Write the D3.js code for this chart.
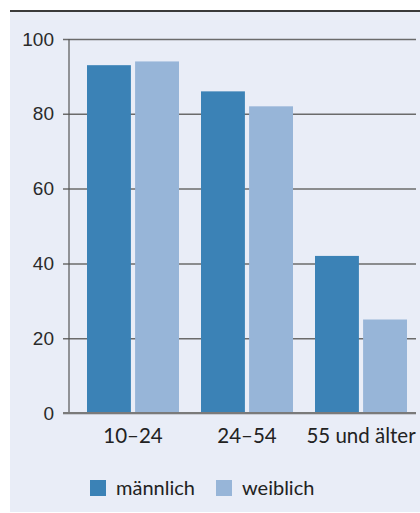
<!DOCTYPE html>
<html>
<head>
<meta charset="utf-8">
<script src="https://cdn.jsdelivr.net/npm/d3@7"></script>
<style>
  body { margin: 0; background: #fff; }
  svg { display: block; }
</style>
</head>
<body>
<div class="graph"><svg></svg></div>
<script>
// Data
const groups = ['10–24', '24–54', '55 und älter']
const seriesNames = ['männlich', 'weiblich']
const maleValues = [93, 86, 42]
const femaleValues = [94, 82, 25]
const yTicks = [0, 20, 40, 60, 80, 100]

const colors = ['#3b82b6', '#97b5d8']
const width = 420
const height = 513

const svg = d3.select('.graph').select('svg')
  .attr('width', width)
  .attr('height', height)

// panel background and top rule
svg.append('rect')
  .attr('x', 10).attr('y', 11)
  .attr('width', width - 10).attr('height', 501)
  .attr('fill', '#e9edf7')

svg.append('line')
  .attr('x1', 10).attr('x2', width)
  .attr('y1', 11).attr('y2', 11)
  .attr('stroke', '#3a3a3a')
  .attr('stroke-width', 2)

const y = d3.scaleLinear().domain([0, 100]).range([413, 39])
const x0 = d3.scaleBand().domain(groups)
  .range([76, 418]).paddingInner(0.193).paddingOuter(0.0965)
const x1 = d3.scaleBand().domain(seriesNames)
  .range([0, x0.bandwidth()]).paddingInner(0.087)

// grid lines + y axis
// (tick size is negative for the grid, so padding is measured from the axis)
const yAxis = d3.axisLeft(y)
  .tickValues(yTicks)
  .tickSize(-(416 - 69))
  .tickSizeOuter(0)
  .tickPadding(15)

const gy = svg.append('g')
  .attr('class', 'y axis')
  .attr('transform', 'translate(69,0)')
  .call(yAxis)
  .attr('font-family', '"Liberation Sans", Arial, sans-serif')
  .attr('font-size', 19)

gy.select('.domain').remove()
gy.selectAll('.tick line')
  .attr('x1', -6)
  .attr('stroke', '#6b6b6b')
  .attr('stroke-width', 1.5)
gy.selectAll('.tick text')
  .attr('fill', '#2a2a2a')

svg.append('line')
  .attr('x1', 69).attr('x2', 69)
  .attr('y1', 39).attr('y2', 413)
  .attr('stroke', '#555')
  .attr('stroke-width', 1.2)

// bars
const rows = groups.map((g, i) => ({ group: g, values: [maleValues[i], femaleValues[i]] }))

const bars = svg.append('g')
  .selectAll('g')
  .data(rows)
  .join('g')
  .attr('transform', d => 'translate(' + x0(d.group) + ',0)')

bars.selectAll('rect')
  .data(d => d.values.map((v, j) => ({ key: seriesNames[j], value: v, idx: j })))
  .join('rect')
  .attr('x', d => x1(d.key))
  .attr('y', d => y(d.value))
  .attr('width', x1.bandwidth())
  .attr('height', d => y(0) - y(d.value))
  .attr('fill', d => colors[d.idx])

// baseline
svg.append('line')
  .attr('x1', 63).attr('x2', 416)
  .attr('y1', y(0)).attr('y2', y(0))
  .attr('stroke', '#7a7a7a')
  .attr('stroke-width', 2)

// x labels
svg.append('g')
  .selectAll('text')
  .data(groups)
  .join('text')
  .attr('x', d => x0(d) + x0.bandwidth() / 2)
  .attr('y', 443)
  .attr('text-anchor', 'middle')
  .attr('font-family', 'Lato, "Open Sans", sans-serif')
  .attr('font-size', 20.5)
  .attr('fill', '#222')
  .text(d => d)

// legend
const legendX = [90, 216]
const legend = svg.append('g')
  .selectAll('g')
  .data(seriesNames)
  .join('g')
  .attr('transform', (d, i) => 'translate(' + legendX[i] + ',480)')

legend.append('rect')
  .attr('width', 16).attr('height', 16)
  .attr('fill', (d, i) => colors[i])

legend.append('text')
  .attr('x', 26).attr('y', 15)
  .attr('font-family', 'Lato, "Open Sans", sans-serif')
  .attr('font-size', 20)
  .attr('fill', '#222')
  .text(d => d)
</script>
</body>
</html>
